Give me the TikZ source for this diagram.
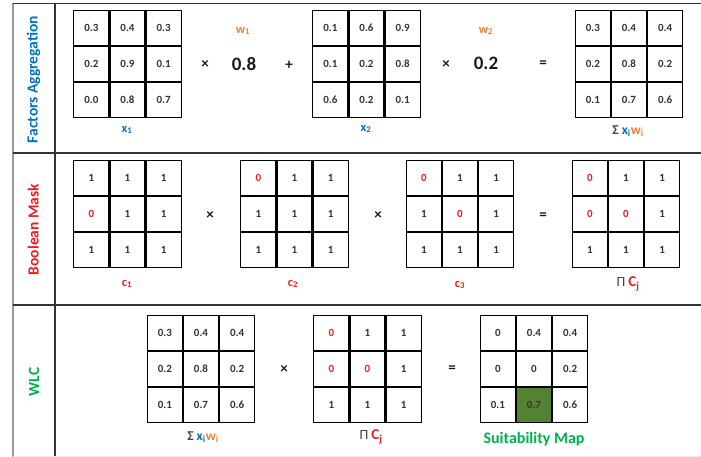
\documentclass[tikz,border=0pt]{standalone}
\usepackage{fontspec}
\setmainfont{Carlito}
\usetikzlibrary{matrix}
\definecolor{cblue}{RGB}{0,112,192}
\definecolor{cred}{RGB}{235,30,35}
\definecolor{cgreen}{RGB}{0,176,80}
\definecolor{corange}{RGB}{237,125,49}
\definecolor{cdkgreen}{RGB}{84,130,53}
\tikzset{
  grid/.style={matrix of nodes, inner sep=0pt, outer sep=0pt, column sep=0pt, row sep=0pt,
    nodes={draw=black, line width=1.1pt, minimum size=35pt, inner sep=0pt, outer sep=0pt, anchor=center,
      text=black!80, font=\bfseries\fontsize{11}{13}\selectfont}},
  rowlabel/.style={rotate=90, anchor=base, font=\bfseries\fontsize{15.5}{18}\selectfont},
  oper/.style={font=\bfseries\fontsize{15}{17}\selectfont, text=black!90},
  weight/.style={font=\bfseries\fontsize{19}{21}\selectfont, text=black!90},
  sublabel/.style={font=\bfseries\fontsize{12.5}{14}\selectfont},
  redv/.style={text=cred},
  frame/.style={line width=1.2pt, draw=black!80}
}
\begin{document}
\begin{tikzpicture}[x=1pt, y=-1pt]
\useasboundingbox (0,0) rectangle (701,457);
% frame
\draw[line width=1.8pt, draw=black!40] (13,3.5) -- (13,457);
\draw[frame] (13,3.5) -- (701,3.5);
\draw[frame] (55,3.5) -- (55,457);
\draw[frame] (13,153) -- (701,153);
\draw[frame] (13,305) -- (701,305);
\draw[line width=0.6pt, draw=black!8] (13,456) -- (701,456);
% row labels
\node[rowlabel, text=cblue] (lab1) at (37.5,79.5) {Factors Aggregation};
\node[rowlabel, text=cred] (lab2) at (38.5,229.5) {Boolean Mask};
\node[rowlabel, text=cgreen] (lab3) at (39,382) {WLC};
% ---- row 1
\matrix (X1) [grid] at (127.5,64) {
 0.3 & 0.4 & 0.3 \\ 0.2 & 0.9 & 0.1 \\ 0.0 & 0.8 & 0.7 \\ };
\matrix (X2) [grid] at (366.5,64) {
 0.1 & 0.6 & 0.9 \\ 0.1 & 0.2 & 0.8 \\ 0.6 & 0.2 & 0.1 \\ };
\matrix (S1) [grid] at (629,64) {
 0.3 & 0.4 & 0.4 \\ 0.2 & 0.8 & 0.2 \\ 0.1 & 0.7 & 0.6 \\ };
\node[oper] (t1) at (205,65) {×};
\node[weight] (w1v) at (244,64) {0.8};
\node[oper] (p1) at (289,65) {+};
\node[oper] (t2) at (446,65) {×};
\node[weight] (w2v) at (486,63) {0.2};
\node[oper] (e1) at (543,64) {=};
\node[sublabel, text=corange] (w1l) at (243,31) {w\textsubscript{1}};
\node[sublabel, text=corange] (w2l) at (486,31) {w\textsubscript{2}};
\node[sublabel, text=cblue] (x1l) at (127,130) {x\textsubscript{1}};
\node[sublabel, text=cblue] (x2l) at (366,129) {x\textsubscript{2}};
\node[sublabel, font=\bfseries\fontsize{13.5}{15}\selectfont] (s1l) at (628,131) {{\color{black!75}Σ} {\color{cblue}x\textsubscript{i}}{\color{corange}w\textsubscript{i}}};
% ---- row 2
\matrix (C1) [grid] at (127.5,214) {
 1 & 1 & 1 \\ |[redv]| 0 & 1 & 1 \\ 1 & 1 & 1 \\ };
\matrix (C2) [grid] at (294.5,214) {
 |[redv]| 0 & 1 & 1 \\ 1 & 1 & 1 \\ 1 & 1 & 1 \\ };
\matrix (C3) [grid] at (460,214) {
 |[redv]| 0 & 1 & 1 \\ 1 & |[redv]| 0 & 1 \\ 1 & 1 & 1 \\ };
\matrix (P1) [grid] at (626,214) {
 |[redv]| 0 & 1 & 1 \\ |[redv]| 0 & |[redv]| 0 & 1 \\ 1 & 1 & 1 \\ };
\node[oper] (t3) at (210,216) {×};
\node[oper] (t4) at (378,216) {×};
\node[oper] (e2) at (543,216) {=};
\node[sublabel, text=cred] (c1l) at (127,284) {c\textsubscript{1}};
\node[sublabel, text=cred] (c2l) at (293,284) {c\textsubscript{2}};
\node[sublabel, text=cred] (c3l) at (460,285) {c\textsubscript{3}};
\node[sublabel, font=\fontsize{14}{16}\selectfont] (p1l) at (628,284) {{\color{black!75}Π} {\color{cred}\bfseries\fontsize{15}{17}\selectfont C\textsubscript{j}}};
% ---- row 3
\matrix (S2) [grid] at (201,369) {
 0.3 & 0.4 & 0.4 \\ 0.2 & 0.8 & 0.2 \\ 0.1 & 0.7 & 0.6 \\ };
\matrix (P2) [grid] at (367.5,369) {
 |[redv]| 0 & 1 & 1 \\ |[redv]| 0 & |[redv]| 0 & 1 \\ 1 & 1 & 1 \\ };
\matrix (M) [grid] at (534,369) {
 0 & 0.4 & 0.4 \\ 0 & 0 & 0.2 \\ 0.1 & |[fill=cdkgreen]| 0.7 & 0.6 \\ };
\node[oper] (t5) at (284,369) {×};
\node[oper] (e3) at (452,369) {=};
\node[sublabel, font=\bfseries\fontsize{13.5}{15}\selectfont] (s2l) at (203,437) {{\color{black!75}Σ} {\color{cblue}x\textsubscript{i}}{\color{corange}w\textsubscript{i}}};
\node[sublabel, font=\fontsize{14}{16}\selectfont] (p2l) at (371,437) {{\color{black!75}Π} {\color{cred}\bfseries\fontsize{15}{17}\selectfont C\textsubscript{j}}};
\node[font=\bfseries\fontsize{16}{18}\selectfont, text=cgreen] (sml) at (534,439) {Suitability Map};
\end{tikzpicture}
\end{document}
